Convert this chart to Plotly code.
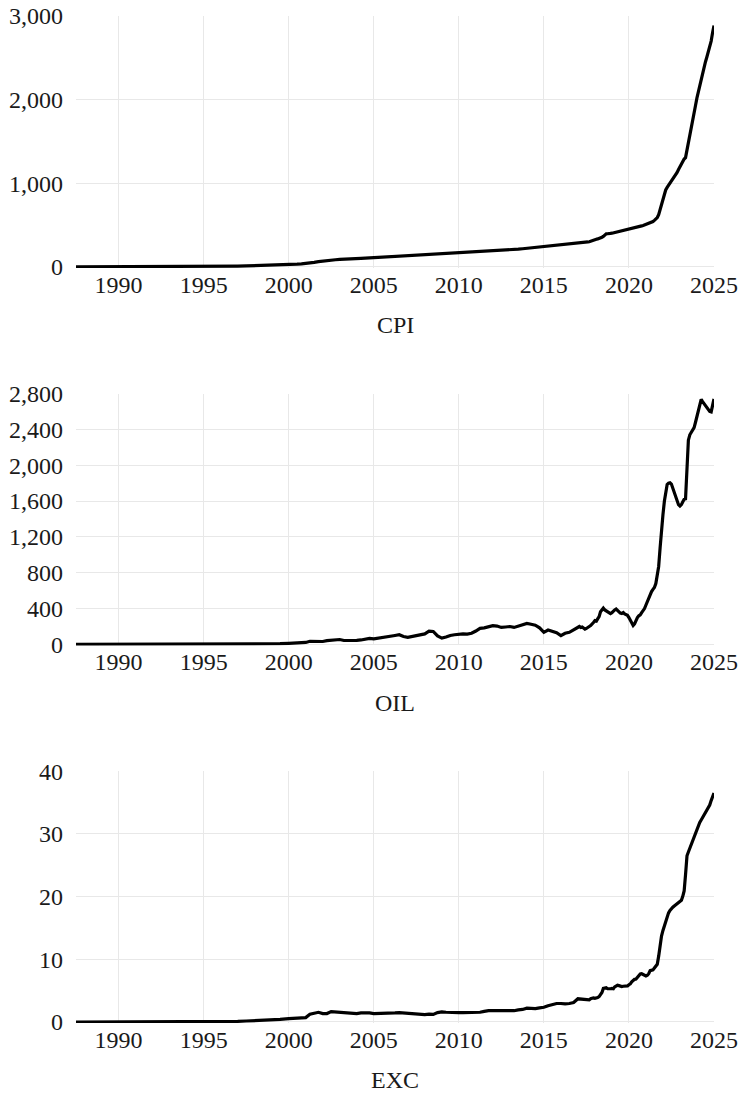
import pandas as pd
import plotly.graph_objects as go
from plotly.subplots import make_subplots

# Observation dates: half-yearly to 1999, quarterly 2000-2016, monthly from 2017
dates_early = pd.date_range("1987-07-01", "1999-07-01", freq="6MS")
dates_mid = pd.date_range("2000-01-01", "2016-10-01", freq="QS")
dates_late = pd.date_range("2017-01-01", "2025-01-01", freq="MS")
dates = list(dates_early) + list(dates_mid) + list(dates_late)

# Consumer price index
cpi_early = [0.06, 0.08, 0.11, 0.14, 0.19, 0.25, 0.3, 0.4, 0.5, 0.65, 0.8, 1.0, 1.3,
             1.7, 2.6, 3.3, 4.2, 5.5, 7.0, 9.5, 12.0, 14.0, 17.0, 19.0, 22.0]
cpi_mid = [26, 29, 32, 36, 40, 48, 54, 62, 70, 75, 79, 85,
           90, 94, 96, 98, 100, 102, 104, 107, 109, 111, 113, 116,
           118, 121, 124, 127, 129, 132, 133, 137, 141, 146, 150, 152,
           154, 156, 158, 160, 165, 167, 168, 173, 175, 178, 180, 187,
           192, 195, 197, 202, 205, 209, 212, 217, 222, 228, 232, 237,
           240, 248, 250, 257, 260, 264, 268, 275]
cpi_late = [283, 285, 288, 291, 293, 294, 296, 298, 301, 305, 309, 312,
            322, 330, 335, 340, 346, 355, 365, 385, 395, 396, 395, 400,
            403, 407, 412, 415, 416, 420, 424, 428, 430, 433, 437, 442,
            448, 452, 455, 459, 463, 468, 472, 476, 482, 490, 496, 502,
            507, 513, 520, 527, 534, 542, 556, 570, 590, 625, 690, 760,
            810, 870, 920, 950, 975, 1000, 1025, 1045, 1075, 1100, 1130, 1165,
            1200, 1240, 1270, 1290, 1306, 1390, 1480, 1570, 1650, 1740, 1830, 1930,
            2020, 2100, 2170, 2240, 2310, 2380, 2450, 2510, 2570, 2630, 2700, 2800,
            2885]

# Oil price in local currency
oil_early = [0.02, 0.02, 0.02, 0.03, 0.04, 0.05, 0.06, 0.08, 0.07, 0.1, 0.14, 0.16, 0.2,
             0.25, 0.5, 0.6, 0.8, 1.2, 1.8, 3.2, 3.3, 3.8, 3.5, 3.3, 8.0]
oil_mid = [12, 14, 18, 20, 22, 35, 36, 30, 33, 42, 44, 52,
           55, 44, 42, 42, 45, 50, 58, 68, 62, 68, 78, 82,
           85, 100, 108, 88, 80, 88, 95, 105, 118, 148, 145, 95,
           70, 82, 100, 108, 115, 118, 115, 125, 150, 180, 185, 195,
           210, 205, 190, 195, 200, 190, 205, 225, 235, 225, 215, 185,
           135, 160, 145, 130, 98, 125, 135, 160]
oil_late = [195, 200, 190, 195, 183, 170, 178, 185, 200, 210, 235, 245,
            265, 260, 285, 310, 365, 395, 405, 385, 375, 360, 350, 345,
            355, 375, 385, 395, 380, 355, 350, 345, 355, 340, 330, 325,
            300, 265, 235, 212, 230, 270, 300, 320, 330, 355, 375, 400,
            440, 480, 520, 565, 590, 615, 635, 680, 760, 870, 1080, 1300,
            1450, 1600, 1720, 1785, 1800, 1805, 1790, 1740, 1690, 1650, 1600, 1560,
            1545, 1560, 1590, 1620, 1625, 1950, 2280, 2340, 2365, 2390, 2420, 2480,
            2550, 2620, 2690, 2735, 2710, 2690, 2665, 2640, 2620, 2600, 2595, 2680,
            2740]

# Exchange rate
exc_early = [0.00085, 0.0011, 0.0015, 0.0019, 0.0022, 0.0024, 0.0027, 0.0031, 0.0043,
             0.0053, 0.0067, 0.0086, 0.012, 0.016, 0.031, 0.039, 0.044, 0.061, 0.08,
             0.11, 0.16, 0.21, 0.27, 0.32, 0.41]
exc_mid = [0.55, 0.6, 0.65, 0.68, 0.7, 1.25, 1.35, 1.55, 1.35, 1.35, 1.65, 1.6,
           1.6, 1.55, 1.4, 1.45, 1.35, 1.45, 1.47, 1.45, 1.35, 1.35, 1.33, 1.35,
           1.33, 1.45, 1.5, 1.45, 1.42, 1.37, 1.28, 1.2, 1.17, 1.25, 1.2, 1.5,
           1.6, 1.55, 1.5, 1.47, 1.48, 1.5, 1.52, 1.42, 1.55, 1.55, 1.7, 1.82,
           1.8, 1.78, 1.8, 1.79, 1.77, 1.8, 1.93, 2.0, 2.2, 2.12, 2.14, 2.25,
           2.35, 2.6, 2.75, 2.95, 2.95, 2.88, 2.95, 3.1]
exc_late = [3.7, 3.68, 3.65, 3.6, 3.55, 3.52, 3.55, 3.5, 3.52, 3.7, 3.85, 3.85,
            3.78, 3.8, 3.9, 4.05, 4.4, 4.7, 5.35, 5.4, 5.45, 5.3, 5.25, 5.3,
            5.35, 5.3, 5.6, 5.8, 5.85, 5.8, 5.7, 5.65, 5.7, 5.68, 5.65, 5.75,
            5.95, 6.1, 6.4, 6.7, 6.8, 6.85, 7.1, 7.4, 7.65, 7.7, 7.6, 7.45,
            7.35, 7.45, 7.7, 8.2, 8.3, 8.3, 8.6, 8.9, 9.2, 10.5, 12.3, 13.7,
            14.6, 15.4, 16.2, 16.9, 17.4, 17.8, 18.1, 18.3, 18.5, 18.65, 18.8, 18.95,
            19.1, 19.4, 20.0, 20.9, 23.5, 26.5, 27.1, 27.7, 28.3, 29.0, 29.7, 30.4,
            30.9, 31.4, 31.8, 32.2, 32.6, 33.0, 33.4, 33.8, 34.1, 34.6, 35.3, 35.8,
            36.5]

series_names = ["CPI", "OIL", "EXC"]
series_values = [cpi_early + cpi_mid + cpi_late,
                 oil_early + oil_mid + oil_late,
                 exc_early + exc_mid + exc_late]
y_ranges = [[0, 3000], [0, 2800], [0, 40]]
y_steps = [1000, 400, 10]

FONT = "Liberation Serif"
FSIZE = 24
GRID = "#e8e8e8"
INK = "#1a1a1a"

fig = make_subplots(rows=3, cols=1, vertical_spacing=0.1248)

for i, (name, vals) in enumerate(zip(series_names, series_values), start=1):
    fig.add_trace(
        go.Scatter(x=dates, y=vals, mode="lines", name=name,
                   line=dict(color="black", width=3.2), showlegend=False),
        row=i, col=1,
    )
    lo, hi = y_ranges[i - 1]
    pad = (hi - lo) * 0.004
    fig.update_yaxes(
        range=[lo - pad, hi], dtick=y_steps[i - 1], tick0=0, tickformat=",",
        showgrid=True, gridcolor=GRID, gridwidth=1, zeroline=False,
        showline=False, ticks="", ticklabelstandoff=12, automargin=False,
        tickfont=dict(family=FONT, size=FSIZE, color=INK),
        row=i, col=1,
    )
    fig.update_xaxes(
        type="date", range=[dates[0], dates[-1]],
        tick0="1990-01-01", dtick="M60", tickformat="%Y",
        showgrid=True, gridcolor=GRID, gridwidth=1, zeroline=False,
        showline=False, ticks="", ticklabelstandoff=0, automargin=False,
        tickfont=dict(family=FONT, size=FSIZE, color=INK),
        row=i, col=1,
    )

# Panel captions beneath each x axis
caption_y = [0.6931, 0.3178, -0.0566]
for name, yy in zip(series_names, caption_y):
    fig.add_annotation(text=name, x=0.5, y=yy, xref="paper", yref="paper",
                       xanchor="center", yanchor="middle", showarrow=False,
                       font=dict(family=FONT, size=FSIZE, color=INK))

fig.update_layout(
    width=745, height=1093,
    margin=dict(l=76, r=31, t=16, b=70, autoexpand=False),
    paper_bgcolor="white", plot_bgcolor="white",
    font=dict(family=FONT, size=FSIZE, color=INK),
)

fig.write_html("out.html")
